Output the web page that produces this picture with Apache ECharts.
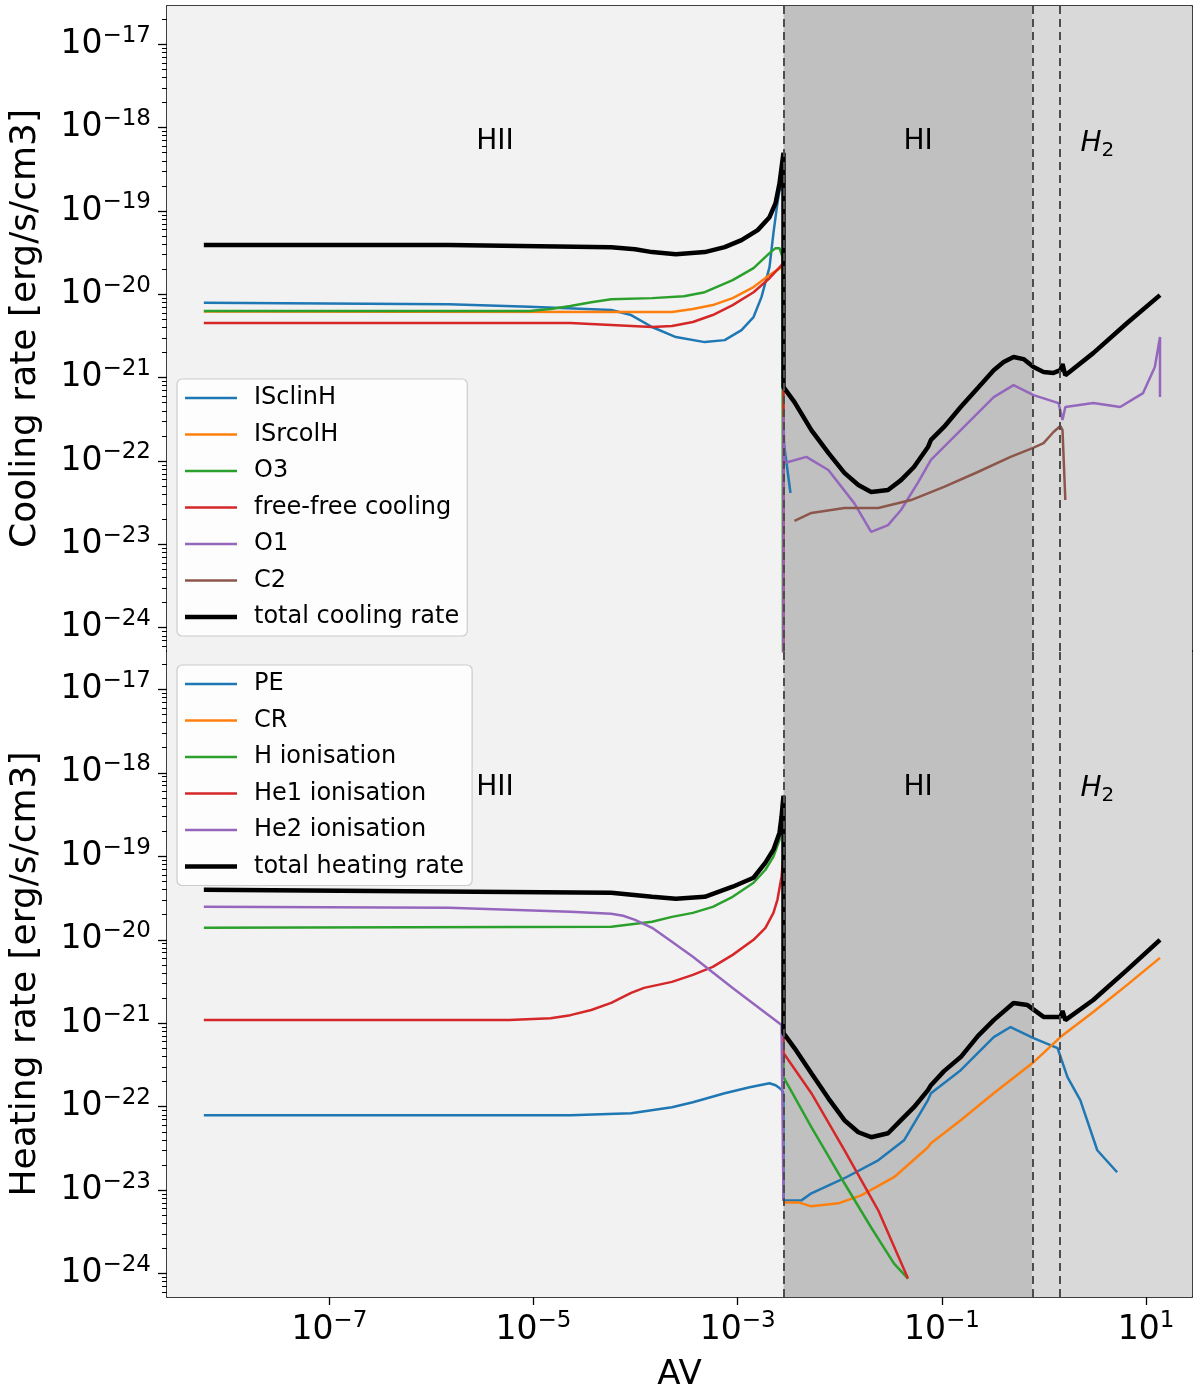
<!DOCTYPE html>
<html><head><meta charset="utf-8">
<script src="https://cdn.jsdelivr.net/npm/echarts@6/dist/echarts.min.js"></script>
<style>html,body{margin:0;padding:0;background:#fff}#c{width:1200px;height:1394px}</style>
</head><body><div id="c"></div>
<script>
const FONT = 'DejaVu Sans';
const X_RANGE = [2.57e-9, 28.2];
const Y_RANGE = [5.25e-25, 2.88e-17];
const X_TICKS = [1e-7, 1e-5, 1e-3, 1e-1, 1e1];
const Y_TICKS = [1e-24, 1e-23, 1e-22, 1e-21, 1e-20, 1e-19, 1e-18, 1e-17];
const BOUNDARIES = [2.81e-3, 0.773, 1.42];
const REGION_LABELS = ['HII', 'HI', 'H2'];
const REGION_LABEL_POS = [[4.2e-6, 6.7e-19], [0.0585, 6.7e-19], [3.33, 6.4e-19]];
const BELOW = 1e-30;

// ---- cooling panel ----
const coolIsclinH = [[5.9e-9,7.9e-21],[1.48e-6,7.62e-21],[9.14e-6,7.1e-21],[5.77e-5,6.47e-21],[9.04e-5,5.64e-21],[1.45e-4,4.05e-21],[2.48e-4,3.07e-21],[4.76e-4,2.67e-21],[7.46e-4,2.82e-21],[1.09e-3,3.72e-21],[1.43e-3,5.33e-21],[1.71e-3,9.25e-21],[2.05e-3,2.12e-20],[2.24e-3,5.42e-20],[2.45e-3,1.24e-19],[2.57e-3,1.77e-19],[2.81e-3,1.95e-19],[2.81e-3,1.79e-22],[3.29e-3,4.13e-23]];
const coolIsrcolH = [[5.9e-9,6.2e-21],[9.04e-5,6.12e-21],[2.27e-4,6.12e-21],[3.64e-4,6.65e-21],[5.7e-4,7.43e-21],[8.93e-4,9.0e-21],[1.43e-3,1.22e-20],[2.05e-3,1.7e-20],[2.69e-3,2.12e-20],[2.81e-3,2.3e-20],[2.81e-3,BELOW]];
const coolO3 = [[5.9e-9,6.3e-21],[9.14e-6,6.3e-21],[1.47e-5,6.65e-21],[2.3e-5,7.23e-21],[3.68e-5,8.05e-21],[5.77e-5,8.75e-21],[1.45e-4,9.0e-21],[2.97e-4,9.5e-21],[4.76e-4,1.06e-20],[8.93e-4,1.48e-20],[1.43e-3,2.06e-20],[2.05e-3,3.12e-20],[2.35e-3,3.58e-20],[2.57e-3,3.58e-20],[2.75e-3,2.79e-20],[2.81e-3,2.79e-20],[2.81e-3,BELOW]];
const coolFreeFree = [[5.9e-9,4.52e-21],[2.3e-5,4.52e-21],[5.77e-5,4.28e-21],[1.45e-4,4.05e-21],[2.27e-4,4.16e-21],[3.64e-4,4.65e-21],[5.7e-4,5.64e-21],[8.93e-4,7.43e-21],[1.43e-3,1.06e-20],[2.05e-3,1.56e-20],[2.69e-3,2.24e-20],[2.81e-3,2.4e-20],[2.81e-3,BELOW]];
const coolO1 = [[2.81e-3,BELOW],[2.81e-3,3.37e-22],[2.88e-3,9.46e-23],[4.71e-3,1.12e-22],[7.73e-3,7.8e-23],[1.39e-2,3.1e-23],[2.03e-2,1.41e-23],[2.97e-2,1.7e-23],[3.98e-2,2.58e-23],[5.83e-2,5.5e-23],[7.82e-2,1.03e-22],[0.153,2.35e-22],[0.322,5.85e-22],[0.504,8.15e-22],[0.791,6.18e-22],[1.39,4.95e-22],[1.52,3.1e-22],[1.62,4.44e-22],[3.04,4.95e-22],[5.58,4.44e-22],[9.35,6.53e-22],[12.2,1.34e-21],[13.7,3.07e-21],[13.7,5.85e-22]];
const coolC2 = [[3.6e-3,1.91e-23],[5.27e-3,2.38e-23],[1.11e-2,2.73e-23],[2.38e-2,2.73e-23],[4.99e-2,3.4e-23],[0.105,4.88e-23],[0.225,7.38e-23],[0.471,1.12e-22],[0.773,1.43e-22],[0.991,1.64e-22],[1.24,2.23e-22],[1.45,2.63e-22],[1.52,2.35e-22],[1.62,3.4e-23]];
const coolTotal = [[5.9e-9,3.9e-20],[1.48e-6,3.9e-20],[5.77e-5,3.68e-20],[9.89e-5,3.48e-20],[1.45e-4,3.21e-20],[2.48e-4,3.03e-20],[4.76e-4,3.21e-20],[7.46e-4,3.68e-20],[1.09e-3,4.47e-20],[1.57e-3,5.89e-20],[2.05e-3,8.43e-20],[2.35e-3,1.24e-19],[2.57e-3,2.15e-19],[2.81e-3,5.0e-19],[2.81e-3,7.7e-22],[3.6e-3,5.09e-22],[5.27e-3,2.35e-22],[7.73e-3,1.25e-22],[1.11e-2,7.2e-23],[1.52e-2,5.15e-23],[2.03e-2,4.25e-23],[2.97e-2,4.49e-23],[3.98e-2,5.9e-23],[5.33e-2,8.47e-23],[7.31e-2,1.47e-22],[7.82e-2,1.79e-22],[0.105,2.56e-22],[0.153,4.44e-22],[0.225,7.5e-22],[0.322,1.23e-21],[0.403,1.54e-21],[0.504,1.77e-21],[0.631,1.67e-21],[0.791,1.34e-21],[0.991,1.17e-21],[1.24,1.14e-21],[1.45,1.23e-21],[1.52,1.46e-21],[1.62,1.07e-21],[3.04,1.97e-21],[6.53,4.52e-21],[13.7,9.77e-21]];

// ---- heating panel ----
const heatPE = [[5.9e-9,7.91e-23],[2.3e-5,7.91e-23],[9.04e-5,8.36e-23],[2.27e-4,9.86e-23],[3.64e-4,1.13e-22],[7.46e-4,1.45e-22],[1.31e-3,1.71e-22],[2.05e-3,1.91e-22],[2.35e-3,1.81e-22],[2.57e-3,1.67e-22],[2.75e-3,1.55e-22],[2.81e-3,1.4e-22],[2.81e-3,7.5e-24],[4.21e-3,7.55e-24],[5.27e-3,9.16e-24],[1.11e-2,1.39e-23],[2.38e-2,2.28e-23],[4.26e-2,3.96e-23],[7.31e-2,1.2e-22],[7.82e-2,1.45e-22],[0.153,2.74e-22],[0.322,6.82e-22],[0.471,9.0e-22],[0.791,6.64e-22],[1.36,5.04e-22],[1.7,2.26e-22],[2.27,1.2e-22],[3.33,3.01e-23],[5.21,1.64e-23]];
const heatCR = [[2.81e-3,7.14e-24],[3.94e-3,7.14e-24],[5.27e-3,6.4e-24],[9.68e-3,6.95e-24],[1.62e-2,8.67e-24],[3.4e-2,1.43e-23],[7.31e-2,3.27e-23],[7.82e-2,3.65e-23],[0.153,6.89e-23],[0.322,1.45e-22],[0.773,3.33e-22],[1.45,6.82e-22],[3.04,1.36e-21],[6.53,2.88e-21],[13.7,6.07e-21]];
const heatHIon = [[5.9e-9,1.39e-20],[5.77e-5,1.43e-20],[1.45e-4,1.64e-20],[2.27e-4,1.88e-20],[3.64e-4,2.1e-20],[5.7e-4,2.48e-20],[8.93e-4,3.27e-20],[1.43e-3,4.82e-20],[1.87e-3,6.9e-20],[2.24e-3,9.89e-20],[2.57e-3,1.58e-19],[2.69e-3,2.75e-19],[2.81e-3,4.79e-19],[2.81e-3,2.26e-22],[5.27e-3,5.68e-23],[1.11e-2,1.21e-23],[2.03e-2,3.57e-24],[3.4e-2,1.32e-24],[4.66e-2,8.73e-25]];
const heatHe1 = [[5.9e-9,1.09e-21],[5.8e-6,1.09e-21],[1.47e-5,1.15e-21],[2.3e-5,1.25e-21],[3.68e-5,1.44e-21],[5.77e-5,1.75e-21],[9.04e-5,2.31e-21],[1.21e-4,2.65e-21],[2.27e-4,3.13e-21],[3.64e-4,3.79e-21],[5.7e-4,4.73e-21],[8.93e-4,6.59e-21],[1.43e-3,9.98e-21],[1.87e-3,1.39e-20],[2.24e-3,2.1e-20],[2.45e-3,3.01e-20],[2.69e-3,5.69e-20],[2.81e-3,1.05e-19],[2.81e-3,4.39e-22],[5.27e-3,1.45e-22],[1.11e-2,3.01e-23],[2.38e-2,5.73e-24],[4.66e-2,8.73e-25]];
const heatHe2 = [[5.9e-9,2.48e-20],[1.48e-6,2.41e-20],[2.3e-5,2.16e-20],[5.77e-5,2.05e-20],[7.55e-5,1.94e-20],[9.89e-5,1.73e-20],[1.45e-4,1.39e-20],[2.27e-4,9.44e-21],[3.64e-4,6.24e-21],[8.93e-4,2.65e-21],[2.69e-3,9.51e-22],[2.81e-3,9.0e-22],[2.81e-3,7.55e-24]];
const heatTotal = [[5.9e-9,3.97e-20],[5.77e-5,3.66e-20],[1.45e-4,3.27e-20],[2.48e-4,3.1e-20],[4.76e-4,3.27e-20],[8.93e-4,4.32e-20],[1.43e-3,5.53e-20],[1.87e-3,8.38e-20],[2.24e-3,1.2e-19],[2.57e-3,1.92e-19],[2.69e-3,2.99e-19],[2.81e-3,5.33e-19],[2.81e-3,7.62e-22],[3.6e-3,5.04e-22],[5.27e-3,2.52e-22],[7.73e-3,1.26e-22],[1.11e-2,6.89e-23],[1.52e-2,4.94e-23],[2.03e-2,4.31e-23],[2.97e-2,4.81e-23],[3.98e-2,6.89e-23],[5.33e-2,9.86e-23],[7.31e-2,1.58e-22],[7.82e-2,1.81e-22],[0.105,2.67e-22],[0.153,3.93e-22],[0.225,7.0e-22],[0.322,1.09e-21],[0.504,1.75e-21],[0.69,1.65e-21],[0.991,1.19e-21],[1.45,1.19e-21],[1.52,1.4e-21],[1.62,1.09e-21],[3.04,1.9e-21],[6.53,4.36e-21],[13.7,9.98e-21]];

const COOL_NAMES = ['ISclinH','ISrcolH','O3','free-free cooling','O1','C2','total cooling rate'];
const COOL_DATA = [coolIsclinH, coolIsrcolH, coolO3, coolFreeFree, coolO1, coolC2, coolTotal];
const COOL_COLORS = ['#1f77b4','#ff7f0e','#2ca02c','#d62728','#9467bd','#8c564b','#000000'];
const HEAT_NAMES = ['PE','CR','H ionisation','He1 ionisation','He2 ionisation','total heating rate'];
const HEAT_DATA = [heatPE, heatCR, heatHIon, heatHe1, heatHe2, heatTotal];
const HEAT_COLORS = ['#1f77b4','#ff7f0e','#2ca02c','#d62728','#9467bd','#000000'];

const MINOR_Y = [];
for (let n = -25; n <= -17; n++) for (let k = 2; k <= 9; k++) {
  const v = k * Math.pow(10, n);
  if (v > Y_RANGE[0] && v < Y_RANGE[1]) MINOR_Y.push(v);
}

function powLabel(v) {
  const e = Math.round(Math.log10(v));
  return '{b|10}{s|' + (e < 0 ? '\u2212' : '') + Math.abs(e) + '}';
}
const RICH = {
  b: {fontSize: 33, lineHeight: 40, fontFamily: FONT, color: '#000'},
  s: {fontSize: 23, lineHeight: 23, verticalAlign: 'top', fontFamily: FONT, color: '#000'}
};
const AXLINE = {show: true, onZero: false, lineStyle: {color: '#000', width: 1.5}};

function logX(gi, labels) {
  return {
    type: 'log', logBase: 10, gridIndex: gi, min: X_RANGE[0], max: X_RANGE[1], position: 'bottom',
    axisLine: AXLINE,
    axisTick: {show: labels, length: 8, customValues: X_TICKS, lineStyle: {color: '#000', width: 1.3}},
    axisLabel: {show: labels, customValues: X_TICKS, margin: 13, formatter: powLabel, rich: RICH},
    splitLine: {show: false}, minorTick: {show: false},
    name: labels ? 'AV' : '', nameLocation: 'middle', nameGap: 61,
    nameTextStyle: {fontSize: 34, fontFamily: FONT, color: '#000'}
  };
}
function logY(gi, name) {
  return {
    type: 'log', logBase: 10, gridIndex: gi, min: Y_RANGE[0], max: Y_RANGE[1], position: 'left',
    axisLine: AXLINE,
    axisTick: {show: true, length: 9, customValues: Y_TICKS, lineStyle: {color: '#000', width: 1.3}},
    axisLabel: {show: true, customValues: Y_TICKS, margin: 16, formatter: powLabel, rich: RICH},
    splitLine: {show: false},
    name: name, nameLocation: 'middle', nameGap: 123,
    nameTextStyle: {fontSize: 36, fontFamily: FONT, color: '#000'}
  };
}
function minorY(gi) {
  return {
    type: 'log', logBase: 10, gridIndex: gi, min: Y_RANGE[0], max: Y_RANGE[1], position: 'left',
    axisLine: {show: false},
    axisTick: {show: true, length: 5, customValues: MINOR_Y, lineStyle: {color: '#000', width: 1}},
    axisLabel: {show: false}, splitLine: {show: false}
  };
}
function frameX(gi) {
  return {type: 'value', gridIndex: gi, position: 'top', min: 0, max: 1, axisLine: AXLINE,
    axisTick: {show: false}, axisLabel: {show: false}, splitLine: {show: false}};
}
function frameY(gi) {
  return {type: 'value', gridIndex: gi, position: 'right', min: 0, max: 1, axisLine: AXLINE,
    axisTick: {show: false}, axisLabel: {show: false}, splitLine: {show: false}};
}

function lineSeries(name, data, color, xi, yi) {
  const w = color === '#000000' ? 4.5 : 2.5;
  return {type: 'line', name: name, data: data, xAxisIndex: xi, yAxisIndex: yi,
    symbol: 'none', showSymbol: false, clip: true, silent: true, z: 3,
    lineStyle: {color: color, width: w}, itemStyle: {color: color},
    emphasis: {disabled: true}};
}
function decoSeries(xi, yi) {
  return [{
    type: 'line', data: [], xAxisIndex: xi, yAxisIndex: yi, z: 1, silent: true,
    markArea: {silent: true, data: [
      [{xAxis: X_RANGE[0], itemStyle: {color: '#f2f2f2'}}, {xAxis: BOUNDARIES[0]}],
      [{xAxis: BOUNDARIES[0], itemStyle: {color: '#c0c0c0'}}, {xAxis: BOUNDARIES[1]}],
      [{xAxis: BOUNDARIES[1], itemStyle: {color: '#d9d9d9'}}, {xAxis: X_RANGE[1]}]
    ]}
  }, {
    type: 'line', data: [], xAxisIndex: xi, yAxisIndex: yi, z: 10, silent: true,
    markLine: {silent: true, symbol: ['none', 'none'], label: {show: false},
      lineStyle: {color: '#4d4d4d', width: 2, type: [8, 5]},
      data: BOUNDARIES.map(b => [{coord: [b, Y_RANGE[0]]}, {coord: [b, Y_RANGE[1]]}])},
    markPoint: {silent: true, symbol: 'circle', symbolSize: 0,
      label: {show: true, position: 'inside', color: '#000', fontSize: 28, fontFamily: FONT,
        formatter: p => p.name === 'H2' ? '{i|H}{sub|2}' : p.name,
        rich: {i: {fontSize: 28, fontStyle: 'italic', fontFamily: FONT, color: '#000', lineHeight: 34},
               sub: {fontSize: 20, verticalAlign: 'bottom', fontFamily: FONT, color: '#000', lineHeight: 20}}},
      data: REGION_LABELS.map((t, i) => ({name: t, coord: REGION_LABEL_POS[i]}))}
  }];
}

function legendItems(names) {
  return names.map(n => ({
    name: n,
    icon: n.indexOf('total') === 0 ? 'path://M0,0H52V4.5H0Z' : 'path://M0,0H52V2.5H0Z'
  }));
}
const LEGEND_COMMON = {
  orient: 'vertical', itemWidth: 52, itemHeight: 14, itemGap: 12.5, padding: [7, 8, 7, 8],
  backgroundColor: 'rgba(255,255,255,0.85)', borderColor: '#cccccc', borderWidth: 1.2, borderRadius: 5,
  textStyle: {fontSize: 24, fontFamily: FONT, color: '#000', lineHeight: 24, padding: [0, 0, 0, 12]},
  selectedMode: false, z: 20
};

const series = [].concat(
  decoSeries(0, 0), decoSeries(1, 2),
  COOL_NAMES.map((n, i) => lineSeries(n, COOL_DATA[i], COOL_COLORS[i], 0, 0)),
  HEAT_NAMES.map((n, i) => lineSeries(n, HEAT_DATA[i], HEAT_COLORS[i], 1, 2))
);

const option = {
  animation: false,
  backgroundColor: '#ffffff',
  grid: [
    {left: 163, top: 6, width: 1029, height: 645, show: false},
    {left: 163, top: 651, width: 1029, height: 646, show: false}
  ],
  xAxis: [logX(0, false), logX(1, true), frameX(0), frameX(1)],
  yAxis: [logY(0, 'Cooling rate [erg/s/cm3]'), minorY(0), logY(1, 'Heating rate [erg/s/cm3]'), minorY(1), frameY(0), frameY(1)],
  legend: [
    Object.assign({}, LEGEND_COMMON, {left: 177, top: 379, data: legendItems(COOL_NAMES)}),
    Object.assign({}, LEGEND_COMMON, {left: 177, top: 665, data: legendItems(HEAT_NAMES)})
  ],
  series: series
};
const chart = echarts.init(document.getElementById('c'), null, {renderer: 'canvas'});
chart.setOption(option);
</script></body></html>
